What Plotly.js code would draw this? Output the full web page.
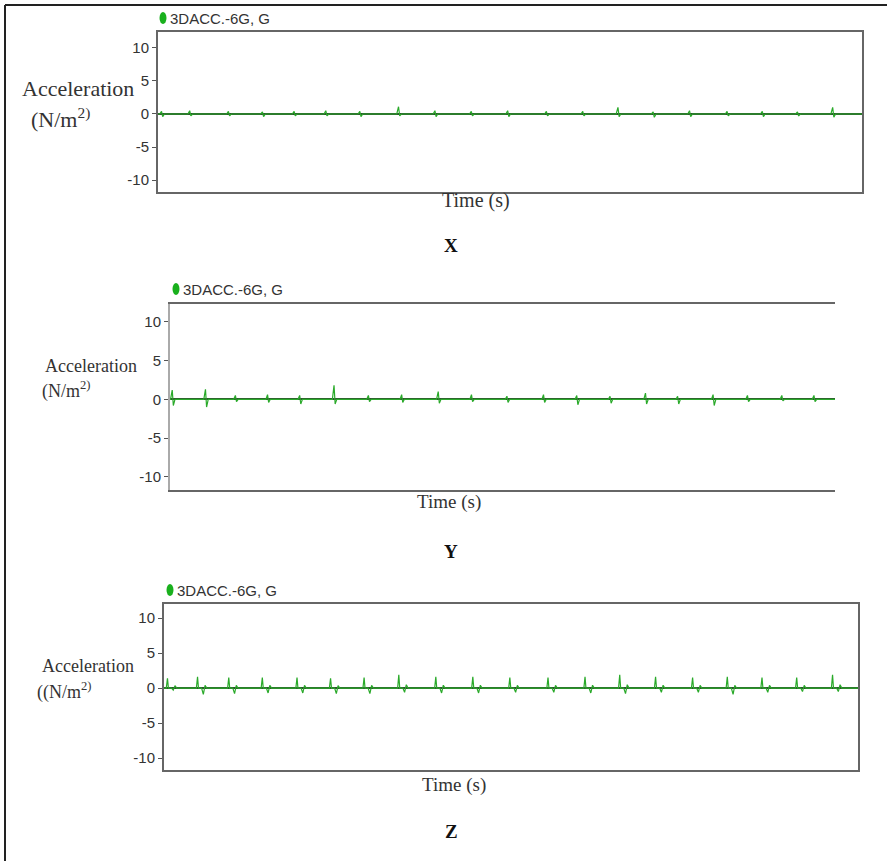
<!DOCTYPE html>
<html><head><meta charset="utf-8">
<script src="https://cdn.plot.ly/plotly-3.0.1.min.js"></script>
<style>html,body{margin:0;padding:0;background:#fff}#chart{width:887px;height:861px}</style>
</head><body><div id="chart"></div>
<script>
// ---- data (time in s, acceleration) ----
const seriesName = '3DACC.-6G, G';
const panelLabels = ['X', 'Y', 'Z'];
const yTickVals = [-10, -5, 0, 5, 10];
const yTickText = ['-10', '-5', '0', '5', '10'];

const xTimes = [0.3, 2.7, 6.0, 8.9, 11.6, 14.3, 17.2, 20.5, 23.6, 26.7, 29.8, 33.1, 36.2, 39.2, 42.2, 45.3, 48.5, 51.5, 54.5, 57.5];
const xUp    = [0.4, 0.5, 0.4, 0.3, 0.4, 0.5, 0.4, 1.1, 0.5, 0.4, 0.5, 0.4, 0.4, 1.0, 0.3, 0.5, 0.4, 0.4, 0.3, 1.0];
const xDown  = [-0.4, -0.3, -0.3, -0.4, -0.3, -0.3, -0.4, -0.3, -0.4, -0.3, -0.4, -0.3, -0.3, -0.4, -0.5, -0.4, -0.3, -0.4, -0.3, -0.5];

const yTimes = [0.2, 3.2, 5.9, 8.8, 11.7, 14.8, 17.9, 20.9, 24.2, 27.2, 30.4, 33.7, 36.7, 39.7, 42.9, 45.8, 49.0, 52.1, 55.2, 58.1];
const yUp    = [1.2, 1.3, 0.5, 0.6, 0.5, 1.8, 0.5, 0.6, 1.0, 0.6, 0.4, 0.6, 0.5, 0.4, 0.8, 0.4, 0.6, 0.5, 0.5, 0.5];
const yDown  = [-0.8, -1.0, -0.3, -0.4, -0.6, -0.6, -0.3, -0.4, -0.5, -0.3, -0.4, -0.4, -0.7, -0.5, -0.6, -0.6, -0.8, -0.3, -0.2, -0.3];

const zTimes = [0.3, 2.9, 5.6, 8.5, 11.5, 14.4, 17.3, 20.3, 23.5, 26.7, 29.9, 33.2, 36.4, 39.4, 42.5, 45.7, 48.7, 51.7, 54.7, 57.8];
const zUp    = [1.4, 1.6, 1.5, 1.5, 1.5, 1.4, 1.5, 1.9, 1.6, 1.6, 1.5, 1.5, 1.6, 1.9, 1.6, 1.5, 1.6, 1.5, 1.5, 1.9];
const zDip   = [-0.3, -0.9, -0.8, -0.7, -0.7, -0.8, -0.8, -0.6, -0.7, -0.7, -0.6, -0.6, -0.7, -0.8, -0.6, -0.6, -0.9, -0.6, -0.5, -0.5];

const tEnd = 60;

// ---- build line traces from spike tables ----
function simpleSpikes(times, up, down) {
  const x = [0], y = [0];
  times.forEach((t, i) => {
    x.push(t - 0.15, t, t + 0.1, t + 0.25);
    y.push(0, up[i], down[i], 0);
  });
  x.push(tEnd); y.push(0);
  return {x, y};
}
function doubleSpikes(times, up, dip) {
  const x = [0], y = [0];
  times.forEach((t, i) => {
    x.push(t - 0.1, t, t + 0.08, t + 0.35, t + 0.5, t + 0.65, t + 0.8);
    y.push(0, up[i], 0, 0, dip[i], up[i] * 0.25, 0);
  });
  x.push(tEnd); y.push(0);
  return {x, y};
}
const sX = simpleSpikes(xTimes, xUp, xDown);
const sY = simpleSpikes(yTimes, yUp, yDown);
const sZ = doubleSpikes(zTimes, zUp, zDip);

// ---- layout in pixel terms ----
const W = 887, H = 861;
const px = v => v / W, py = v => 1 - v / H;
const panels = [
  {l: 158, r: 862, t: 32, b: 192, yr: [-11.8, 12.4], mirrorY: true,
   leg: [163, 18], acc: [78, 88, 22], unit: ['(N/m<sup>2)</sup>', 29, 118, 22], time: [476, 201, 20], lab: [451, 245]},
  {l: 170, r: 835, t: 304, b: 490, yr: [-11.7, 12.3], mirrorY: false,
   leg: [176, 289], acc: [91, 366, 18], unit: ['(N/m<sup>2)</sup>', 40, 390, 18], time: [449, 502, 19], lab: [451, 551]},
  {l: 164, r: 858, t: 604, b: 770, yr: [-11.7, 12.0], mirrorY: true,
   leg: [170, 590], acc: [88, 666, 18], unit: ['((N/m<sup>2)</sup>', 35, 691, 18], time: [454, 785, 19], lab: [451, 831]}
];
const series = [sX, sY, sZ];

const tickFont = {family: 'Liberation Sans, Arial, sans-serif', size: 15, color: '#333'};
const serif = 'Liberation Serif, Times New Roman, serif';

const data = [];
const layout = {
  width: W, height: H, margin: {l: 0, r: 0, t: 0, b: 0},
  paper_bgcolor: '#fff', plot_bgcolor: '#fff', showlegend: false,
  annotations: [], shapes: []
};

panels.forEach((p, i) => {
  const n = i === 0 ? '' : String(i + 1);
  data.push({
    type: 'scatter', mode: 'lines', name: seriesName,
    x: series[i].x, y: series[i].y,
    xaxis: 'x' + n, yaxis: 'y' + n,
    line: {color: '#2aaa2a', width: 1.2}, hoverinfo: 'skip'
  });
  layout['xaxis' + n] = {
    domain: [px(p.l), px(p.r)], range: [0, tEnd], anchor: 'y' + n,
    showgrid: false, zeroline: false, showticklabels: false, ticks: '',
    showline: true, linecolor: '#666', linewidth: 2, mirror: true
  };
  layout['yaxis' + n] = {
    domain: [py(p.b), py(p.t)], range: p.yr, anchor: 'x' + n,
    showgrid: false, zeroline: true, zerolinecolor: '#2f4f2f', zerolinewidth: 2,
    tickvals: yTickVals, ticktext: yTickText, ticks: 'outside', ticklen: 4, tickcolor: '#555',
    tickfont: tickFont,
    showline: true, linecolor: i === 1 ? '#aaa' : '#666', linewidth: 2, mirror: p.mirrorY
  };
  // legend marker + text
  layout.shapes.push({type: 'circle', xref: 'paper', yref: 'paper',
    x0: px(p.leg[0] - 3.5), x1: px(p.leg[0] + 3.5), y0: py(p.leg[1] + 6), y1: py(p.leg[1] - 6),
    fillcolor: '#19b01d', line: {width: 0}});
  layout.annotations.push({xref: 'paper', yref: 'paper', x: px(p.leg[0] + 5), y: py(p.leg[1]),
    xanchor: 'left', yanchor: 'middle', showarrow: false, text: seriesName, font: tickFont});
  // y label
  layout.annotations.push({xref: 'paper', yref: 'paper', x: px(p.acc[0]), y: py(p.acc[1]),
    xanchor: 'center', yanchor: 'middle', showarrow: false, text: 'Acceleration',
    font: {family: serif, size: p.acc[2], color: '#333'}});
  layout.annotations.push({xref: 'paper', yref: 'paper', x: px(p.unit[1]), y: py(p.unit[2]),
    xanchor: 'left', yanchor: 'middle', showarrow: false, text: p.unit[0],
    font: {family: serif, size: p.unit[3], color: '#333'}});
  // x label
  layout.annotations.push({xref: 'paper', yref: 'paper', x: px(p.time[0]), y: py(p.time[1]),
    xanchor: 'center', yanchor: 'middle', showarrow: false, text: 'Time (s)',
    font: {family: serif, size: p.time[2], color: '#333'}});
  // panel letter
  layout.annotations.push({xref: 'paper', yref: 'paper', x: px(p.lab[0]), y: py(p.lab[1]),
    xanchor: 'center', yanchor: 'middle', showarrow: false, text: '<b>' + panelLabels[i] + '</b>',
    font: {family: serif, size: 19, color: '#111'}});
});

// outer frame (left and top edges)
layout.shapes.push({type: 'line', xref: 'paper', yref: 'paper', x0: px(5), x1: px(5), y0: 0, y1: py(5), line: {color: '#222', width: 2}});
layout.shapes.push({type: 'line', xref: 'paper', yref: 'paper', x0: px(5), x1: 1, y0: py(5), y1: py(5), line: {color: '#222', width: 2}});

Plotly.newPlot('chart', data, layout, {displayModeBar: false, staticPlot: true});
</script></body></html>
